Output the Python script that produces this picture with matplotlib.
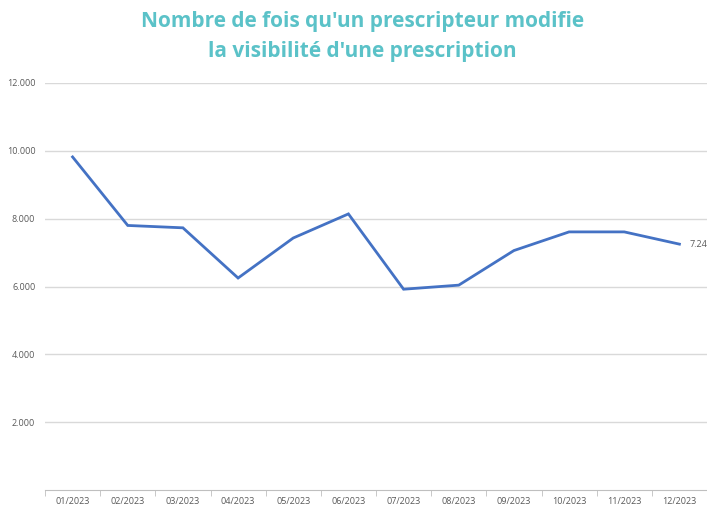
import matplotlib.pyplot as plt
from matplotlib.ticker import FuncFormatter

months = ["01/2023", "02/2023", "03/2023", "04/2023", "05/2023", "06/2023",
          "07/2023", "08/2023", "09/2023", "10/2023", "11/2023", "12/2023"]
values = [9820, 7800, 7730, 6250, 7430, 8140, 5920, 6040, 7060, 7610, 7610, 7249]

fig = plt.figure(figsize=(7.07, 5.05), dpi=100)
ax = fig.add_axes([45 / 707, 15 / 505, 662 / 707, 407 / 505])

x = range(len(months))
ax.plot(x, values, color="#4472c4", linewidth=2.0, solid_joinstyle="miter")

ax.set_xlim(-0.5, len(months) - 0.5)
ax.set_ylim(0, 12000)
ax.set_yticks(range(2000, 12001, 2000))
ax.yaxis.set_major_formatter(FuncFormatter(lambda v, p: f"{int(v):,}".replace(",", ".")))
ax.set_xticks(list(x))
ax.set_xticklabels(months)
ax.set_xticks([i - 0.5 for i in range(len(months) + 1)], minor=True)

ax.grid(axis="y", color="#d9d9d9", linewidth=1)
ax.set_axisbelow(True)
for s in ["top", "right", "left"]:
    ax.spines[s].set_visible(False)
ax.spines["bottom"].set_color("#bfbfbf")
ax.tick_params(axis="y", length=0, labelsize=6.5, labelcolor="#595959", pad=7)
ax.tick_params(axis="x", which="major", length=0, labelsize=6.5, labelcolor="#595959", pad=5)
ax.tick_params(axis="x", which="minor", length=4, color="#bfbfbf")
for lab in ax.get_xticklabels() + ax.get_yticklabels():
    lab.set_family("Open Sans")

# last value label, partly cut by the right edge like in the original
ax.annotate(f"{values[-1]:,}".replace(",", "."), (len(months) - 1, values[-1]),
            xytext=(7, 0), textcoords="offset points", va="center",
            fontsize=6.5, color="#595959", family="Open Sans", annotation_clip=False)

fig.text(0.513, 0.978, "Nombre de fois qu'un prescripteur modifie\nla visibilité d'une prescription",
         ha="center", va="top", fontsize=15, fontweight="bold", color="#5bc2c8",
         family="Open Sans", linespacing=1.55)

fig.savefig("out.png", dpi=100)
